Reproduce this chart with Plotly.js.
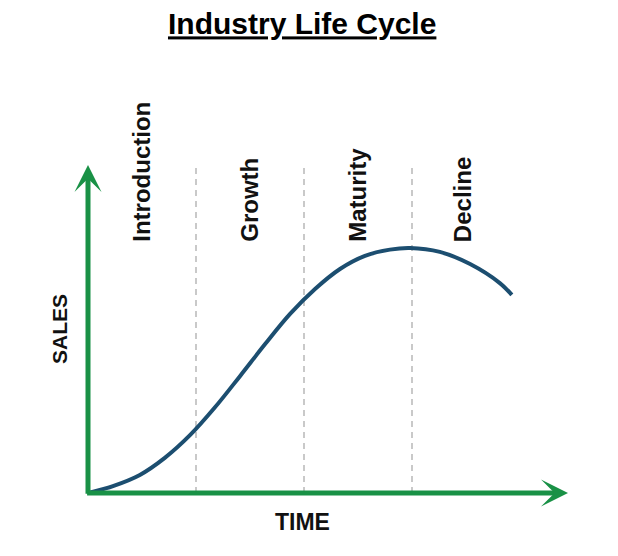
<!DOCTYPE html>
<html>
<head>
<meta charset="utf-8">
<script src="https://cdn.plot.ly/plotly-3.0.1.min.js"></script>
<style>
  html, body { margin: 0; padding: 0; background: #ffffff; }
  #chart { width: 618px; height: 556px; }
</style>
</head>
<body>
<div id="chart"></div>
<script>
// ---- data ----
const stages = ['Introduction', 'Growth', 'Maturity', 'Decline'];
const stageEdges = [0, 22.5, 45, 67.5, 88.3];
const time  = [0, 5.2, 10.8, 16.0, 21.3, 26.5, 31.7, 36.9, 42.1, 47.3, 52.5, 57.7, 62.9, 67.1, 73.3, 79.6, 85.8, 88.3];
const sales = [0, 2.1, 5.5, 10.7, 17.7, 26.2, 35.7, 45.4, 54.6, 62.2, 68.3, 72.3, 74.2, 74.7, 73.5, 69.8, 64.0, 60.4];
const axisMax = 100;
const labelBase = 76;

const GREEN = '#199146';
const BLUE = '#1c4e70';
const FONT = 'Liberation Sans, Arial, sans-serif';

const trace = {
  x: time, y: sales, type: 'scatter', mode: 'lines',
  line: { color: BLUE, width: 4, shape: 'spline', smoothing: 1 },
  hoverinfo: 'skip', showlegend: false
};

const shapes = stageEdges.slice(1, 4).map(e => ({
  type: 'line', xref: 'x', yref: 'y', x0: e, x1: e, y0: 0, y1: axisMax,
  line: { color: '#c9c9c9', width: 2, dash: '6px,5px' }, layer: 'below'
}));

const annotations = stages.map((s, i) => ({
  text: s, x: (stageEdges[i] + stageEdges[i + 1]) / 2, y: labelBase,
  xref: 'x', yref: 'y', xanchor: 'center', yanchor: 'bottom',
  textangle: -90, showarrow: false,
  font: { family: FONT, size: 24, color: '#111111', weight: 'bold' }
}));

// axis label for time (sits left of the plot centre in the reference)
annotations.push({
  text: 'TIME', xref: 'paper', yref: 'paper', x: 0.446, y: 0, yshift: -29,
  xanchor: 'center', yanchor: 'middle', showarrow: false,
  font: { family: FONT, size: 23, color: '#111111', weight: 'bold' }
});

// axis arrows
annotations.push({
  x: axisMax, y: 0, ax: -0.5, ay: 0, xref: 'x', yref: 'y', axref: 'x', ayref: 'y',
  text: '', showarrow: true, arrowhead: 3, arrowsize: 0.9, arrowwidth: 5, arrowcolor: GREEN
});
annotations.push({
  x: 0, y: axisMax, ax: 0, ay: -0.7, xref: 'x', yref: 'y', axref: 'x', ayref: 'y',
  text: '', showarrow: true, arrowhead: 3, arrowsize: 0.9, arrowwidth: 5, arrowcolor: GREEN
});

const hiddenAxis = {
  showline: false, showgrid: false, zeroline: false, showticklabels: false, ticks: '',
  fixedrange: true
};

const layout = {
  width: 618, height: 556,
  margin: { l: 88, r: 50, t: 165, b: 63 },
  paper_bgcolor: '#ffffff', plot_bgcolor: '#ffffff',
  title: {
    text: '<u>Industry Life Cycle</u>',
    xref: 'container', yref: 'container', x: 0.489, xanchor: 'center',
    y: 0.957, yanchor: 'middle',
    font: { family: FONT, size: 30, color: '#000000', weight: 'bold' }
  },
  xaxis: Object.assign({}, hiddenAxis, { range: [0, axisMax] }),
  yaxis: Object.assign({}, hiddenAxis, {
    range: [0, axisMax],
    title: { text: 'SALES', standoff: 13, font: { family: FONT, size: 21, color: '#111111', weight: 'bold' } }
  }),
  shapes: shapes,
  annotations: annotations,
  showlegend: false
};

Plotly.newPlot('chart', [trace], layout, { staticPlot: true, displayModeBar: false });
</script>
</body>
</html>
